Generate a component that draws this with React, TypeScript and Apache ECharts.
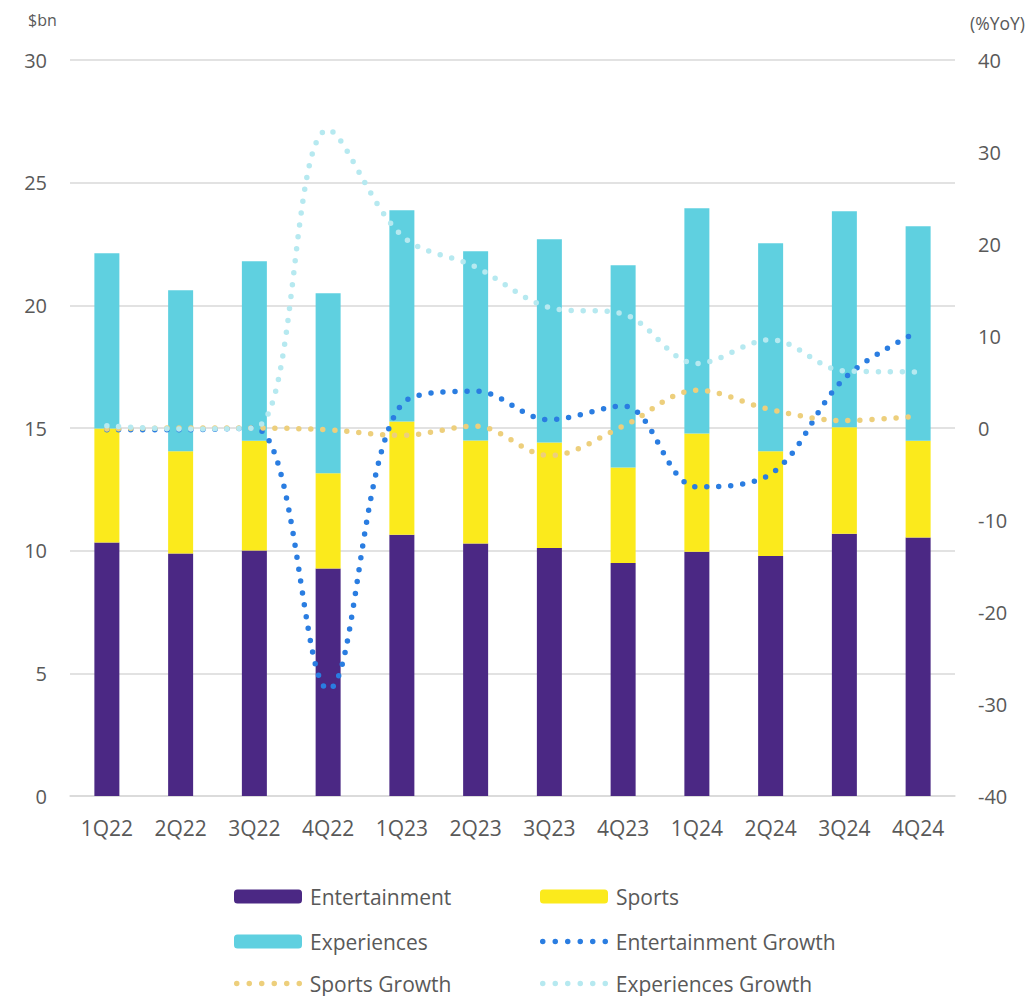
import React, { useEffect, useRef } from "react";
import * as echarts from "echarts";

const quarters = ["1Q22", "2Q22", "3Q22", "4Q22", "1Q23", "2Q23", "3Q23", "4Q23", "1Q24", "2Q24", "3Q24", "4Q24"];
const entertainment = [10.33, 9.88, 10.01, 9.27, 10.65, 10.29, 10.11, 9.5, 9.96, 9.78, 10.69, 10.54];
const sports = [4.65, 4.17, 4.47, 3.89, 4.62, 4.2, 4.3, 3.89, 4.82, 4.27, 4.34, 3.94];
const experiences = [7.14, 6.56, 7.32, 7.33, 8.61, 7.71, 8.28, 8.24, 9.18, 8.48, 8.81, 8.74];
const entertainmentGrowth = [-0.2, -0.2, 0, -28.4, 2.6, 4.0, 0.9, 2.4, -6.4, -5.0, 5.4, 10.5];
const sportsGrowth = [-0.1, 0, 0, -0.2, -0.8, 0.2, -3.0, 0.2, 4.1, 2.0, 0.8, 1.3];
const experiencesGrowth = [0.25, -0.1, 0, 32.4, 20.9, 17.5, 13.1, 12.4, 7.0, 9.6, 6.2, 6.1];

const leftTicks = { min: 0, max: 30, interval: 5 };
const rightTicks = { min: -40, max: 40, interval: 10 };

const FONT = "'Open Sans', 'Noto Sans', sans-serif";
const TXT = "#595959";

const C_ENT = "#4B2884";
const C_SPO = "#FBEA1C";
const C_EXP = "#5FD0E0";
const C_ENT_G = "#2A7DE1";
const C_SPO_G = "#EDCF7C";
const C_EXP_G = "#B6E9F0";

export default function App() {
  const ref = useRef<HTMLDivElement>(null);
  useEffect(() => {
    if (!ref.current) return;
    const chart = echarts.init(ref.current, null, { renderer: "svg" });
    const dotLine = (color: string, gap: number) => ({
      color,
      width: 5.5,
      type: [0, gap],
      cap: "round",
    });
    const barSeries = (name: string, data: number[], color: string) => ({
      name,
      type: "bar",
      stack: "total",
      yAxisIndex: 0,
      barWidth: 25,
      data,
      itemStyle: { color },
      emphasis: { disabled: true },
    });
    const lineSeries = (name: string, data: number[], color: string) => ({
      name,
      type: "line",
      yAxisIndex: 1,
      smooth: 0.35,
      symbol: "none",
      data,
      lineStyle: dotLine(color, 12),
      itemStyle: { color },
      z: 5,
      emphasis: { disabled: true },
    });
    const legendItem = (name: string, left: number, top: number, isLine: boolean, color: string) => ({
      data: [name],
      left,
      top,
      padding: 0,
      itemWidth: 68,
      itemHeight: 14,
      itemGap: 0,
      selectedMode: false,
      textStyle: {
        color: TXT,
        fontSize: 21,
        lineHeight: 20,
        fontFamily: FONT,
        padding: [0, 0, 0, isLine ? 0 : 3],
      },
      ...(isLine
        ? { lineStyle: dotLine(color, 12.5), itemStyle: { color: "transparent", borderWidth: 0, opacity: 0 } }
        : {}),
    });
    chart.setOption({
      animation: false,
      textStyle: { fontFamily: FONT },
      grid: { left: 70, right: 75, top: 60, bottom: 200, containLabel: false },
      xAxis: {
        type: "category",
        data: quarters,
        axisTick: { show: false },
        axisLine: { lineStyle: { color: "#d9d9d9", width: 1.5 } },
        axisLabel: { color: TXT, fontSize: 21, fontFamily: FONT, margin: 21 },
      },
      yAxis: [
        {
          type: "value",
          ...leftTicks,
          axisLine: { show: false },
          axisTick: { show: false },
          splitLine: { lineStyle: { color: "#d9d9d9", width: 1.5 } },
          axisLabel: { color: TXT, fontSize: 20, fontFamily: FONT, margin: 23 },
        },
        {
          type: "value",
          ...rightTicks,
          position: "right",
          axisLine: { show: false },
          axisTick: { show: false },
          splitLine: { show: false },
          axisLabel: { color: TXT, fontSize: 20, fontFamily: FONT, margin: 23 },
        },
      ],
      legend: [
        legendItem("Entertainment", 234, 886, false, C_ENT),
        legendItem("Sports", 540, 886, false, C_SPO),
        legendItem("Experiences", 234, 931, false, C_EXP),
        legendItem("Entertainment Growth", 540, 931, true, C_ENT_G),
        legendItem("Sports Growth", 234, 973, true, C_SPO_G),
        legendItem("Experiences Growth", 540, 973, true, C_EXP_G),
      ],
      graphic: [
        {
          type: "text",
          left: 28,
          top: 12,
          style: { text: "$bn", fill: TXT, fontSize: 16, fontFamily: FONT },
        },
        {
          type: "text",
          left: 970,
          top: 14,
          style: { text: "(%YoY)", fill: TXT, fontSize: 17.5, fontFamily: FONT },
        },
      ],
      series: [
        barSeries("Entertainment", entertainment, C_ENT),
        barSeries("Sports", sports, C_SPO),
        barSeries("Experiences", experiences, C_EXP),
        lineSeries("Entertainment Growth", entertainmentGrowth, C_ENT_G),
        lineSeries("Sports Growth", sportsGrowth, C_SPO_G),
        lineSeries("Experiences Growth", experiencesGrowth, C_EXP_G),
      ],
    });
    return () => chart.dispose();
  }, []);
  return <div ref={ref} style={{ width: 1030, height: 996, position: "absolute", left: 0, top: 0 }} />;
}
